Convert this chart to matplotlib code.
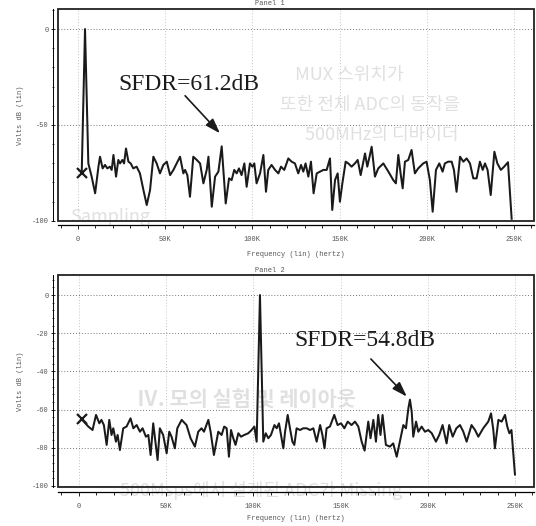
import matplotlib.pyplot as plt
from matplotlib.patches import Rectangle
from matplotlib.ticker import MultipleLocator

# Panel 1 spectrum (frequency in kHz, level in dB)
f1 = [2.1, 4.0, 5.9, 7.8, 9.8, 11.7, 12.6, 14.1, 15.5, 16.8,
      18.3, 19.3, 20.3, 21.8, 23.1, 24.1, 25.4, 26.4, 27.5, 28.9,
      30.2, 31.7, 33.6, 35.5, 37.5, 39.4, 41.3, 43.2, 45.1, 47.0,
      48.9, 50.9, 52.8, 54.7, 56.6, 58.5, 60.4, 61.4, 62.7, 64.2,
      66.1, 68.1, 70.0, 71.9, 73.8, 74.8, 76.7, 78.6, 80.5, 82.4,
      84.7, 86.6, 88.1, 89.6, 91.0, 92.3, 93.8, 95.4, 96.7, 98.6,
      100.0, 101.1, 102.4, 104.4, 106.3, 107.8, 109.1, 111.0, 113.0, 114.9,
      116.4, 118.3, 120.6, 122.5, 124.4, 126.3, 127.9, 129.2, 130.5, 132.1,
      133.6, 135.1, 136.9, 138.8, 140.7, 142.6, 144.5, 145.8, 147.4, 148.9,
      150.2, 151.6, 153.5, 155.0, 156.9, 158.8, 160.4, 162.1, 164.6, 165.9,
      167.2, 168.4, 170.3, 172.2, 175.1, 178.0, 180.8, 182.3, 183.7, 185.0,
      186.2, 187.5, 189.4, 191.3, 193.2, 195.1, 198.0, 199.9, 201.8, 203.4,
      205.3, 207.2, 209.1, 210.4, 212.3, 214.3, 215.6, 217.1, 219.1, 221.0,
      222.9, 224.8, 226.7, 228.6, 230.5, 232.1, 233.4, 234.9, 236.7, 238.8,
      240.5, 242.5, 244.4, 246.6, 248.7]
v1 = [-75.3, 0.0, -70.1, -77.0, -85.7, -71.8, -66.6, -72.7, -70.9, -72.7,
      -71.8, -73.5, -65.7, -77.0, -68.3, -70.1, -68.3, -70.1, -62.3, -69.2,
      -70.1, -72.7, -71.8, -75.3, -84.0, -91.8, -84.0, -66.6, -70.1, -75.3,
      -70.9, -69.2, -76.2, -73.5, -70.1, -66.6, -75.3, -73.5, -76.2, -87.5,
      -66.6, -68.3, -70.1, -80.5, -73.5, -66.6, -92.7, -77.0, -74.4, -61.2,
      -91.0, -77.9, -78.8, -73.5, -75.3, -72.7, -76.2, -70.1, -82.3, -70.1,
      -71.8, -70.1, -80.5, -75.3, -65.7, -84.9, -73.5, -70.9, -73.5, -75.3,
      -71.8, -73.5, -67.5, -69.2, -70.1, -75.3, -70.9, -74.4, -70.1, -77.0,
      -69.2, -85.7, -75.3, -74.4, -73.5, -73.5, -67.5, -94.4, -78.8, -75.3,
      -90.1, -80.5, -69.2, -70.1, -71.8, -70.1, -68.3, -76.2, -64.9, -71.8,
      -66.6, -61.4, -77.0, -72.7, -70.1, -74.4, -78.8, -80.5, -65.7, -75.3,
      -83.1, -69.2, -68.3, -63.1, -75.3, -72.7, -70.1, -69.2, -78.8, -95.3,
      -73.5, -70.1, -74.4, -70.1, -69.2, -69.2, -73.5, -84.9, -66.6, -69.2,
      -67.5, -70.1, -77.9, -77.9, -69.2, -73.5, -70.1, -73.5, -86.6, -64.0,
      -70.1, -73.5, -71.8, -69.5, -99.0]

# Panel 2 spectrum
f2 = [1.5, 5.4, 7.8, 9.8, 11.7, 12.9, 14.3, 15.9, 17.4, 18.7,
      19.7, 21.2, 22.2, 23.5, 25.4, 27.3, 29.6, 31.2, 33.1, 35.0,
      36.5, 38.4, 39.8, 41.1, 42.6, 45.1, 46.4, 48.3, 50.3, 51.8,
      53.1, 55.0, 56.4, 58.9, 61.7, 64.0, 66.5, 68.4, 70.3, 71.7,
      74.2, 75.5, 77.4, 79.9, 81.8, 83.3, 84.7, 86.0, 87.2, 88.5,
      89.8, 91.4, 92.9, 94.8, 97.1, 99.0, 100.6, 101.9, 103.8, 105.7,
      107.1, 108.6, 110.1, 112.1, 113.4, 114.7, 116.2, 117.2, 118.2, 119.7,
      121.0, 122.4, 123.5, 124.8, 126.8, 128.6, 130.6, 132.5, 134.4, 136.3,
      138.3, 139.6, 140.8, 142.0, 143.9, 146.4, 148.3, 150.3, 152.2, 154.1,
      156.3, 158.3, 160.2, 162.1, 163.8, 165.9, 167.2, 168.8, 170.3, 171.6,
      172.9, 174.1, 176.0, 178.3, 180.2, 182.2, 184.0, 186.0, 187.5, 188.9,
      189.8, 190.8, 191.7, 193.3, 194.6, 196.5, 198.4, 200.3, 202.3, 204.7,
      206.6, 208.5, 210.8, 212.3, 214.3, 216.4, 218.5, 220.4, 222.3, 225.1,
      227.1, 229.0, 231.8, 234.7, 236.3, 237.6, 238.5, 240.5, 242.4, 244.3,
      245.6, 246.8, 248.0, 250.0]
v2 = [-65.0, -68.9, -70.7, -62.8, -67.2, -65.4, -68.1, -78.5, -65.4, -73.3,
      -69.8, -76.8, -73.3, -81.2, -69.8, -68.9, -64.6, -69.8, -68.1, -71.6,
      -69.8, -74.2, -73.3, -83.8, -67.2, -86.4, -69.8, -73.3, -82.9, -71.6,
      -74.2, -80.3, -69.8, -65.4, -68.1, -75.0, -79.4, -71.6, -69.8, -71.6,
      -65.4, -71.6, -83.8, -71.6, -73.3, -68.9, -69.8, -84.7, -70.7, -75.0,
      -78.5, -72.4, -74.2, -73.3, -72.4, -70.7, -68.9, -76.8, 0.0, -76.8,
      -72.4, -75.0, -73.3, -68.1, -69.8, -67.2, -75.0, -80.3, -71.6, -62.8,
      -69.8, -76.8, -78.5, -69.8, -70.7, -69.8, -69.8, -70.7, -69.8, -76.8,
      -68.1, -73.3, -80.3, -69.8, -68.9, -62.8, -68.1, -67.2, -69.8, -66.3,
      -68.1, -66.3, -68.9, -76.8, -81.5, -66.3, -75.0, -65.4, -76.8, -62.8,
      -73.3, -62.8, -78.5, -79.4, -77.7, -84.7, -76.8, -68.1, -69.8, -59.3,
      -54.8, -61.1, -74.2, -66.3, -71.6, -68.9, -71.6, -70.7, -72.4, -76.8,
      -73.3, -68.1, -77.7, -68.1, -74.2, -69.8, -68.1, -71.6, -76.8, -68.1,
      -70.7, -74.2, -69.8, -66.3, -62.0, -70.7, -80.3, -65.4, -66.3, -62.8,
      -68.9, -72.4, -70.7, -94.0]

xticks = [0, 50, 100, 150, 200, 250]
xlabels = ["0", "50K", "100K", "150K", "200K", "250K"]

plt.rcParams['axes.unicode_minus'] = False
mono = ['Liberation Mono', 'DejaVu Sans Mono']
kor = ['Noto Sans CJK KR', 'DejaVu Sans']
ink = '#1a1a1a'
faint = '#e0e0e0'

fig = plt.figure(figsize=(5.36, 5.26), dpi=100)

# faint text of the printed page showing through
fig.text(295 / 536, 1 - 75 / 526, "MUX 스위치가", family=kor, size=13, color=faint, va='center', zorder=-1)
fig.text(280 / 536, 1 - 105 / 526, "또한 전체 ADC의 동작을", family=kor, size=13, color=faint, va='center', zorder=-1)
fig.text(305 / 536, 1 - 135 / 526, "500MHz의 디바이더", family=kor, size=13, color=faint, va='center', zorder=-1)
fig.text(70 / 536, 1 - 217 / 526, "Sampling", family=kor, size=13, color=faint, va='center', zorder=-1)
fig.text(137 / 536, 1 - 400 / 526, "Ⅳ. 모의 실험 및 레이아웃", family=kor, size=15, weight='bold', color=faint, va='center', zorder=-1)
fig.text(120 / 536, 1 - 490 / 526, "500Msps에서 설계된 ADC가 Missing", family=kor, size=13, color=faint, va='center', zorder=-1)

ax1 = fig.add_axes([0.1082, 0.5804, 0.888, 0.4019])
ax2 = fig.add_axes([0.1082, 0.0747, 0.888, 0.4025])

panels = [
    (ax1, f1, v1, (-11.5, 261.5), (-100, 10.3), [0, -50, -100], 10, 3.1, "Panel 1", 3.5, 255),
    (ax2, f2, v2, (-12.0, 260.9), (-100.4, 10.5), [0, -20, -40, -60, -80, -100], 4, 3.6, "Panel 2", 270, 518),
]

for ax, f, v, xl, yl, yt, ymin, off, title, ty, xly in panels:
    ax.set_facecolor('none')
    ax.plot(f, v, color=ink, lw=1.45, zorder=3)
    ax.plot(f[0], v[0], marker='x', ms=7, mew=1.6, color=ink, zorder=4)
    ax.set_xlim(*xl)
    ax.set_ylim(*yl)
    ax.set_xticks(xticks)
    ax.set_xticklabels(xlabels)
    ax.xaxis.set_minor_locator(MultipleLocator(10))
    ax.set_yticks(yt)
    ax.set_yticklabels([str(t) for t in yt])
    ax.yaxis.set_minor_locator(MultipleLocator(ymin))
    ax.grid(axis='y', which='major', linestyle=(0, (1, 2)), color='#777777', lw=0.7)
    ax.grid(axis='x', which='major', linestyle=(0, (1, 2)), color='#c4c4c4', lw=0.7)
    for s in ['top', 'right']:
        ax.spines[s].set_visible(False)
    ax.spines['left'].set_position(('outward', 3.6))
    ax.spines['bottom'].set_position(('outward', off))
    ax.spines['left'].set_linewidth(0.7)
    ax.spines['bottom'].set_linewidth(0.9)
    ax.add_patch(Rectangle((0, 0), 1, 1, transform=ax.transAxes, fill=False,
                           lw=1.3, ec='#222222', clip_on=False, zorder=5))
    ax.tick_params(axis='x', which='major', direction='out', length=3, width=0.6,
                   pad=5, labelsize=5, labelcolor='#555555')
    ax.tick_params(axis='x', which='minor', direction='out', length=2, width=0.6)
    ax.tick_params(axis='y', which='major', direction='inout', length=3, width=0.6,
                   pad=1.5, labelsize=5, labelcolor='#555555')
    ax.tick_params(axis='y', which='minor', direction='inout', length=2, width=0.5)
    for lab in ax.get_xticklabels() + ax.get_yticklabels():
        lab.set_family(mono)
    box = ax.get_position()
    fig.text(270 / 536, 1 - ty / 526, title, family=mono, size=5, color='#555555',
             ha='center', va='center')
    fig.text(296 / 536, 1 - xly / 526, "Frequency (lin) (hertz)", family=mono, size=5,
             color='#555555', ha='center', va='center')
    fig.text(20 / 536, box.y0 + box.height / 2, "Volts dB (lin)", family=mono, size=5,
             color='#555555', ha='center', va='center', rotation=90)

# SFDR annotations
arrow = dict(arrowstyle='-|>,head_length=0.9,head_width=0.3', color=ink, lw=1.2,
             shrinkA=0, shrinkB=0)
ax1.annotate("", xy=(81.4, -54.4), xytext=(61.4, -34.8), arrowprops=arrow)
ax1.text(22.9, -29.0, "SFDR=61.2dB", family='Liberation Serif', size=17, color=ink, va='center')
ax2.annotate("", xy=(188.0, -53.2), xytext=(167.4, -33.5), arrowprops=arrow)
ax2.text(123.3, -23.6, "SFDR=54.8dB", family='Liberation Serif', size=17, color=ink, va='center')

fig.savefig("out.png", dpi=100)
